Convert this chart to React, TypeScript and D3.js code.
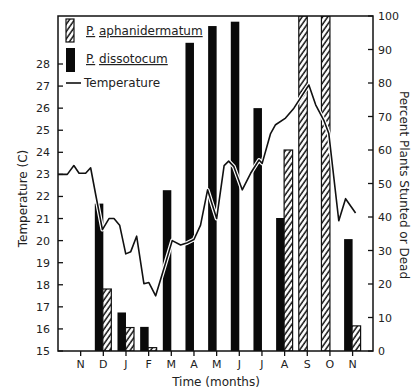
import * as d3 from 'd3'

// month ticks along the time axis (Nov through the following Nov)
const MONTHS = ['N', 'D', 'J', 'F', 'M', 'A', 'M', 'J', 'J', 'A', 'S', 'O', 'N']
// percent plants stunted or dead, one value per month
const DISSOTOCUM = [0, 44, 11.5, 7.2, 48, 92, 97, 98.3, 72.5, 39.7, 0, 0, 33.4]
const APHANIDERMATUM = [0, 18.5, 7, 1, 0, 0, 0, 0, 0, 60, 100, 100, 7.5]
// temperature trace: position in months (1 = first N) and degrees C
const TEMP_T = [0, 0.41, 0.7, 0.93, 1.22, 1.44, 1.66, 1.96, 2.25, 2.47, 2.72, 2.99, 3.21, 3.47, 3.79, 4.01, 4.31, 4.75, 5.04, 5.41, 5.71, 6.0, 6.29, 6.6, 7.0, 7.33, 7.53, 7.76, 8.13, 8.5, 8.87, 9.01, 9.38, 9.6, 10.04, 10.41, 11.07, 11.37, 11.73, 11.95, 12.39, 12.69, 13.13]
const TEMP_C = [23.0, 23.0, 23.4, 23.05, 23.05, 23.3, 22.1, 20.5, 21.0, 21.0, 20.7, 19.4, 19.5, 20.2, 18.05, 18.1, 17.5, 19.0, 20.0, 19.8, 19.9, 20.05, 20.7, 22.3, 21.0, 23.4, 23.6, 23.35, 22.3, 23.05, 23.65, 23.5, 24.85, 25.25, 25.55, 26.0, 27.05, 26.15, 25.45, 24.85, 20.9, 21.9, 21.25]
const TEMP_TICKS = d3.range(15, 29)
const PCT_TICKS = d3.range(0, 101, 10)

const FONT = 'DejaVu Sans, sans-serif'

export default function App() {
  const W = 414
  const H = 391
  const L = 58, R = 373, T = 16, B = 351

  const x = d3.scaleLinear().domain([0, 13.9]).range([L, R])
  const yT = d3.scaleLinear().domain([15, 28]).range([B, 64])
  const yP = d3.scaleLinear().domain([0, 100]).range([B, T])

  const temps = TEMP_T.map((t, i) => [t, TEMP_C[i]] as [number, number])
  const line = d3.line<[number, number]>().x(d => x(d[0])).y(d => yT(d[1]))
  const path = line(temps) || ''

  const bw = 8.5

  return (
    <svg width={W} height={H} style={{ position: 'absolute', left: 0, top: 0, background: '#fff' }} fontFamily={FONT}>
      <defs>
        <pattern id="hatch" patternUnits="userSpaceOnUse" width={4.2} height={10} patternTransform="rotate(35)">
          <rect width={4.2} height={10} fill="#fff" />
          <line x1={1} y1={0} x2={1} y2={10} stroke="#111" strokeWidth={1.5} />
        </pattern>
        <clipPath id="plot">
          <rect x={L} y={T} width={R - L} height={B - T} />
        </clipPath>
      </defs>

      <g clipPath="url(#plot)">
        {DISSOTOCUM.map((v, i) => v > 0 && (
          <rect key={'d' + i} x={x(i + 1) - bw} y={yP(v)} width={bw} height={B - yP(v)} fill="#0a0a0a" />
        ))}
        {APHANIDERMATUM.map((v, i) => {
          if (!(v > 0)) return null
          const x0 = DISSOTOCUM[i] > 0 ? x(i + 1) - 0.5 : x(i + 1) - bw
          return (
            <rect key={'a' + i} x={x0} y={yP(v)} width={bw} height={B - yP(v)}
              fill="url(#hatch)" stroke="#111" strokeWidth={1.2} />
          )
        })}
        <path d={path} fill="none" stroke="#fff" strokeWidth={4} strokeLinejoin="round" />
        <path d={path} fill="none" stroke="#111" strokeWidth={1.6} strokeLinejoin="round" />
      </g>

      {/* frame */}
      <rect x={L} y={T} width={R - L} height={B - T} fill="none" stroke="#111" strokeWidth={1.5} />

      {/* left axis */}
      {TEMP_TICKS.map(t => (
        <g key={'lt' + t}>
          <line x1={L} x2={L + 5} y1={yT(t)} y2={yT(t)} stroke="#111" strokeWidth={1.3} />
          <text x={50} y={yT(t) + 4} textAnchor="end" fontSize={11} fill="#222">{t}</text>
        </g>
      ))}
      <text transform={`translate(27,${(T + B) / 2 + 15}) rotate(-90)`} textAnchor="middle" fontSize={12} fill="#222">Temperature (C)</text>

      {/* right axis */}
      {PCT_TICKS.map(p => (
        <g key={'rt' + p}>
          <line x1={R - 5} x2={R} y1={yP(p)} y2={yP(p)} stroke="#111" strokeWidth={1.3} />
          <text x={378} y={yP(p) + 4} fontSize={11} fill="#222">{p}</text>
        </g>
      ))}
      <text transform={`translate(400,185) rotate(90)`} textAnchor="middle" fontSize={12} fill="#222">Percent Plants Stunted or Dead</text>

      {/* time axis */}
      {MONTHS.map((m, i) => (
        <g key={'m' + i}>
          <line x1={x(i + 1)} x2={x(i + 1)} y1={B} y2={B + 5} stroke="#111" strokeWidth={1.3} />
          <text x={x(i + 1)} y={368} textAnchor="middle" fontSize={11} fill="#222">{m}</text>
        </g>
      ))}
      <text x={216} y={386} textAnchor="middle" fontSize={12} fill="#222">Time (months)</text>

      {/* legend */}
      <rect x={66} y={19} width={8} height={23} fill="url(#hatch)" stroke="#111" strokeWidth={1.2} />
      <text x={86} y={35} fontSize={12} fill="#222">
        <tspan textDecoration="underline">P.</tspan> <tspan textDecoration="underline">aphanidermatum</tspan>
      </text>
      <rect x={66} y={48} width={9} height={24} fill="#0a0a0a" />
      <text x={86} y={63} fontSize={12} fill="#222">
        <tspan textDecoration="underline">P.</tspan> <tspan textDecoration="underline">dissotocum</tspan>
      </text>
      <line x1={66} x2={81} y1={83} y2={83} stroke="#111" strokeWidth={1.6} />
      <text x={84} y={87} fontSize={12} fill="#222">Temperature</text>
    </svg>
  )
}
